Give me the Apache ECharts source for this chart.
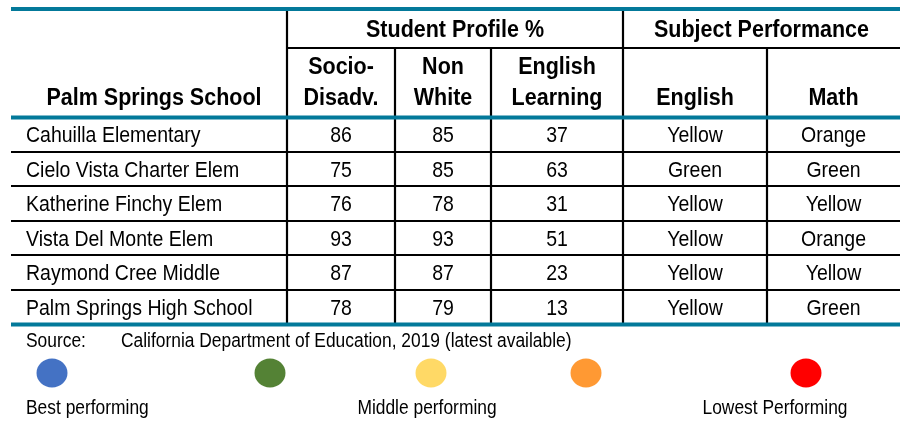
<!DOCTYPE html>
<html>
<head>
<meta charset="utf-8">
<script src="https://cdn.jsdelivr.net/npm/echarts@6/dist/echarts.min.js"></script>
<style>
  html, body { margin: 0; padding: 0; background: #fff; }
  #chart { width: 900px; height: 432px; }
</style>
</head>
<body>
<div id="chart"></div>
<script>
// table data
var schools = [
    'Cahuilla Elementary',
    'Cielo Vista Charter Elem',
    'Katherine Finchy Elem',
    'Vista Del Monte Elem',
    'Raymond Cree Middle',
    'Palm Springs High School'
];
var socioDisadv = [86, 75, 76, 93, 87, 78];
var nonWhite = [85, 85, 78, 93, 87, 79];
var englishLearning = [37, 63, 31, 51, 23, 13];
var englishPerf = ['Yellow', 'Green', 'Yellow', 'Yellow', 'Yellow', 'Yellow'];
var mathPerf = ['Orange', 'Green', 'Yellow', 'Orange', 'Yellow', 'Green'];

// legend
var legendColors = ['#4472C4', '#548235', '#FFD966', '#FF9933', '#FF0000'];
var legendLabels = ['Best performing', 'Middle performing', 'Lowest Performing'];

var sourceText = 'California Department of Education, 2019 (latest available)';

// layout (pixels)
var colEdges = [11, 287, 395, 491, 623, 767, 900];
var teal = '#03799A';
var font = '"Liberation Sans", Arial, sans-serif';
var stretch = 1.12; // text in the picture is a bit taller than Arial

var cells = [];
schools.forEach(function (name, i) {
    [name, socioDisadv[i], nonWhite[i], englishLearning[i], englishPerf[i], mathPerf[i]].forEach(function (v, c) {
        cells.push({ value: [c, i], text: String(v) });
    });
});

function colCenter(c) {
    return (colEdges[c] + colEdges[c + 1]) / 2;
}

function txt(text, x, y, size, bold, align) {
    return {
        type: 'text', x: x, y: y, scaleY: stretch, z: 10,
        style: {
            text: text, x: 0, y: 0,
            font: (bold ? 'bold ' : '') + size + 'px ' + font,
            fill: '#000',
            align: align || 'center',
            verticalAlign: 'middle'
        }
    };
}

function hline(x1, x2, y, w, color) {
    return {
        type: 'line', z: color === teal ? 20 : 5,
        shape: { x1: x1, y1: y, x2: x2, y2: y },
        style: { stroke: color, lineWidth: w }
    };
}

function vline(x, y1, y2) {
    return {
        type: 'line', z: 5,
        shape: { x1: x, y1: y1, x2: x, y2: y2 },
        style: { stroke: '#000', lineWidth: 2.2 }
    };
}

var graphics = [];
// header texts
graphics.push(txt('Student Profile %', (colEdges[1] + colEdges[4]) / 2, 30, 21.5, true));
graphics.push(txt('Subject Performance', (colEdges[4] + colEdges[6]) / 2, 30, 21.5, true));
graphics.push(txt('Palm Springs School', colCenter(0) + 5, 98, 21.5, true));
graphics.push(txt('Socio-', colCenter(1), 67, 21.5, true));
graphics.push(txt('Disadv.', colCenter(1), 98, 21.5, true));
graphics.push(txt('Non', colCenter(2), 67, 21.5, true));
graphics.push(txt('White', colCenter(2), 98, 21.5, true));
graphics.push(txt('English', colCenter(3), 67, 21.5, true));
graphics.push(txt('Learning', colCenter(3), 98, 21.5, true));
graphics.push(txt('English', colCenter(4), 98, 21.5, true));
graphics.push(txt('Math', colCenter(5), 98, 21.5, true));

// rules
graphics.push(hline(11, 900, 9, 4, teal));
graphics.push(hline(11, 900, 117.5, 4, teal));
graphics.push(hline(11, 900, 324.5, 4, teal));
graphics.push(hline(colEdges[1], 900, 48, 2.2, '#000'));
graphics.push(vline(colEdges[1], 11, 324));
graphics.push(vline(colEdges[4], 11, 324));
graphics.push(vline(colEdges[2], 48, 324));
graphics.push(vline(colEdges[3], 48, 324));
graphics.push(vline(colEdges[5], 48, 324));

// footer
graphics.push(txt('Source:', 26, 342, 17.4, false, 'left'));
graphics.push(txt(sourceText, 121, 342, 17.4, false, 'left'));

var dotX = [52, 270, 431, 586, 806];
legendColors.forEach(function (c, i) {
    graphics.push({
        type: 'ellipse', z: 10,
        shape: { cx: dotX[i], cy: 373, rx: 15.5, ry: 14.5 },
        style: { fill: c }
    });
});
graphics.push(txt(legendLabels[0], 26, 409, 17.4, false, 'left'));
graphics.push(txt(legendLabels[1], 427, 409, 17.4, false, 'center'));
graphics.push(txt(legendLabels[2], 775, 409, 17.4, false, 'center'));

var option = {
    backgroundColor: '#fff',
    animation: false,
    grid: { left: 11, right: 0, top: 117, bottom: 108 },
    xAxis: { type: 'value', min: 11, max: 900, show: false },
    yAxis: {
        type: 'category',
        data: schools,
        inverse: true,
        axisLine: { show: false },
        axisTick: { show: false },
        axisLabel: { show: false },
        splitLine: { show: true, lineStyle: { color: '#000', width: 2.2 } }
    },
    graphic: graphics,
    series: [
        {
            type: 'custom',
            data: cells,
            renderItem: function (params, api) {
                var c = api.value(0);
                var r = api.value(1);
                var y = api.coord([11, r])[1] + 2;
                var x = c === 0 ? api.coord([26, r])[0] : api.coord([colCenter(c), r])[0];
                return {
                    type: 'text', x: x, y: y, scaleY: stretch,
                    style: {
                        text: cells[params.dataIndex].text, x: 0, y: 0,
                        font: '19.5px ' + font,
                        fill: '#000',
                        align: c === 0 ? 'left' : 'center',
                        verticalAlign: 'middle'
                    }
                };
            }
        }
    ]
};

var myChart = echarts.init(document.getElementById('chart'));
myChart.setOption(option);
</script>
</body>
</html>
